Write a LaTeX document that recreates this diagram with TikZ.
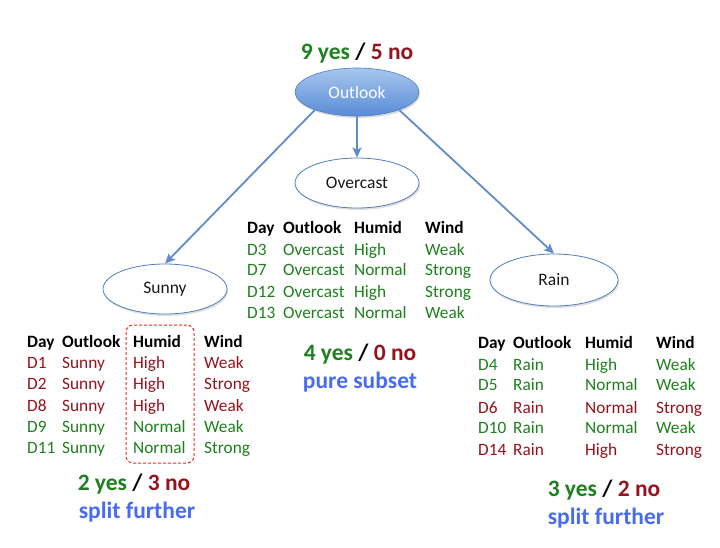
\documentclass[tikz,border=0pt]{standalone}
\usepackage{fontspec}
\setmainfont{Carlito}
\usetikzlibrary{arrows.meta,shadows,shapes.geometric}
\definecolor{grn}{RGB}{30,128,30}
\definecolor{drd}{RGB}{150,18,28}
\definecolor{blu}{RGB}{72,108,240}
\definecolor{arr}{RGB}{96,140,200}
\definecolor{edge}{RGB}{80,125,190}
\begin{document}
\begin{tikzpicture}[x=1pt,y=-1pt,
  cell/.style={anchor=base west,inner sep=0pt,font=\fontsize{17.3}{20}\selectfont},
  head/.style={cell,font=\fontsize{17.3}{20}\selectfont\bfseries,text=black},
  leaf/.style={ellipse,draw=edge,line width=0.8pt,fill=white,minimum width=124pt,minimum height=50pt,inner sep=0pt,font=\fontsize{17.5}{20}\selectfont,text=black!90,
    drop shadow={opacity=0.25,shadow xshift=1pt,shadow yshift=-2pt}},
  big/.style={inner sep=0pt,font=\fontsize{23.5}{27}\selectfont\bfseries},
  conn/.style={draw=arr,line width=1.8pt,-{Stealth[length=10pt,width=9pt,inset=2pt]}}
]
\useasboundingbox (0,0) rectangle (720,547);
% root
\node[ellipse,draw=edge,line width=0.6pt,top color={rgb,255:red,168;green,198;blue,238},bottom color={rgb,255:red,88;green,140;blue,215},
  minimum width=124pt,minimum height=48pt,inner sep=0pt,text=white,font=\fontsize{17.5}{20}\selectfont,
  drop shadow={opacity=0.3,shadow xshift=1pt,shadow yshift=-2pt}] (outlook) at (357,92) {Outlook};
\node[big,anchor=base] (root) at (357,59) {\textcolor{grn}{9 yes} / \textcolor{drd}{5 no}};
% children
\node[leaf] (sunny) at (165,289) {Sunny};
\node[leaf] (overcast) at (357,183) {Overcast};
\node[leaf,minimum width=128pt,minimum height=52pt] (rain) at (554,280) {Rain};
\draw[conn] (outlook.203) -- (sunny.north);
\draw[conn] (outlook.south) -- (overcast.north);
\draw[conn] (outlook.-23) -- (rain.north);
% Sunny table
\node[head] (sh1) at (27,347) {Day};
\node[head] (sh2) at (62,347) {Outlook};
\node[head] (sh3) at (133,347) {Humid};
\node[head] (sh4) at (204,347) {Wind};
\foreach \i/\yy/\d/\h/\w/\c in {1/368/D1/High/Weak/drd,2/389/D2/High/Strong/drd,3/411/D8/High/Weak/drd,4/432/D9/Normal/Weak/grn,5/453/D11/Normal/Strong/grn}{
  \node[cell,text=\c] (sd\i) at (27,\yy) {\d};
  \node[cell,text=\c] (so\i) at (62,\yy) {Sunny};
  \node[cell,text=\c] (sh\i) at (133,\yy) {\h};
  \node[cell,text=\c] (sw\i) at (204,\yy) {\w};
}
\node[draw={rgb,255:red,240;green,40;blue,35},line width=1pt,dash pattern=on 3pt off 2pt,rounded corners=7pt,
  minimum width=68pt,minimum height=138pt,inner sep=0pt] (hbox) at (160,394) {};
% Overcast table
\node[head] (oh1) at (247,233) {Day};
\node[head] (oh2) at (283,233) {Outlook};
\node[head] (oh3) at (354,233) {Humid};
\node[head] (oh4) at (425,233) {Wind};
\foreach \i/\yy/\d/\h/\w in {1/255/D3/High/Weak,2/275/D7/Normal/Strong,3/297/D12/High/Strong,4/318/D13/Normal/Weak}{
  \node[cell,text=grn] (od\i) at (247,\yy) {\d};
  \node[cell,text=grn] (oo\i) at (283,\yy) {Overcast};
  \node[cell,text=grn] (oh\i) at (354,\yy) {\h};
  \node[cell,text=grn] (ow\i) at (425,\yy) {\w};
}
% Rain table
\node[head] (rh1) at (478,348) {Day};
\node[head] (rh2) at (513,348) {Outlook};
\node[head] (rh3) at (585,348) {Humid};
\node[head] (rh4) at (656,348) {Wind};
\foreach \i/\yy/\d/\h/\w/\c in {1/370/D4/High/Weak/grn,2/390/D5/Normal/Weak/grn,3/413/D6/Normal/Strong/drd,4/433/D10/Normal/Weak/grn,5/455/D14/High/Strong/drd}{
  \node[cell,text=\c] (rd\i) at (478,\yy) {\d};
  \node[cell,text=\c] (ro\i) at (513,\yy) {Rain};
  \node[cell,text=\c] (rhh\i) at (585,\yy) {\h};
  \node[cell,text=\c] (rw\i) at (656,\yy) {\w};
}
% summaries
\node[big,anchor=base] (ovs) at (360,360) {\textcolor{grn}{4 yes} / \textcolor{drd}{0 no}};
\node[big,anchor=base,text=blu] (ovp) at (360,388) {pure subset};
\node[big,anchor=base] (sus) at (134,490) {\textcolor{grn}{2 yes} / \textcolor{drd}{3 no}};
\node[big,anchor=base,text=blu] (sup2) at (137,518) {split further};
\node[big,anchor=base] (ras) at (604,496) {\textcolor{grn}{3 yes} / \textcolor{drd}{2 no}};
\node[big,anchor=base,text=blu] (rap) at (606,524) {split further};
\end{tikzpicture}
\end{document}
